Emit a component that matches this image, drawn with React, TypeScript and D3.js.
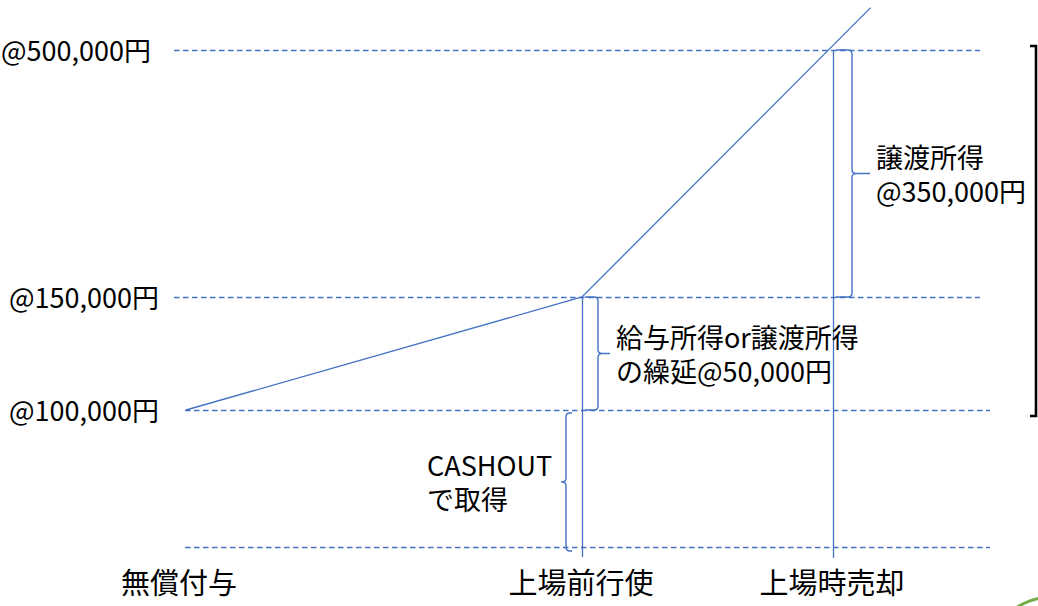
import React from 'react';
import { scaleLinear, line } from 'd3';

// phases along the horizontal axis
const phases = ['無償付与', '上場前行使', '上場時売却'];
// price levels (yen) with their labels
const levels = [0, 100000, 150000, 500000];
const levelLabels = ['', '@100,000円', '@150,000円', '@500,000円'];
// share price path: grant -> exercise -> sale (line continues past the sale level)
const pricePath = [
  { phase: 0, value: 100000 },
  { phase: 1, value: 150000 },
  { phase: 2.15, value: 560000 },
];
// brace annotations
const braces = [
  { phase: 2, from: 150000, to: 500000, side: 'right', lines: ['譲渡所得', '@350,000円'] },
  { phase: 1, from: 100000, to: 150000, side: 'right', lines: ['給与所得or譲渡所得', 'の繰延@50,000円'] },
  { phase: 1, from: 0, to: 100000, side: 'left', lines: ['CASHOUT', 'で取得'] },
];

const BLUE = '#4472C4';
const FONT = '"Noto Sans CJK JP", "Noto Sans", sans-serif';

function bracePath(edge: number, body: number, y0: number, y1: number, tipX: number) {
  const dir = body > edge ? 1 : -1;
  const r = 4;
  const m = (y0 + y1) / 2;
  return `M${edge},${y0} L${body - dir * r},${y0} Q${body},${y0} ${body},${y0 + r}` +
    ` L${body},${m - r} Q${body},${m} ${body + dir * r},${m} L${tipX},${m}` +
    ` M${body + dir * r},${m} Q${body},${m} ${body},${m + r}` +
    ` L${body},${y1 - r} Q${body},${y1} ${body - dir * r},${y1} L${edge},${y1}`;
}

export default function App() {
  const width = 1038;
  const height = 606;

  const x = scaleLinear().domain([0, 1, 2]).range([186, 582, 833]);
  const y = scaleLinear().domain(levels).range([547, 410, 297, 50]);

  const pathGen = line<{ phase: number; value: number }>()
    .x(d => x(d.phase))
    .y(d => y(d.value));

  return (
    <div style={{ position: 'absolute', left: 0, top: 0 }}>
      <svg width={width} height={height} style={{ display: 'block', fontFamily: FONT }}>
        <rect width={width} height={height} fill="#fff" />

        {/* dashed level lines */}
        {levels.map(v => (
          <line key={v}
            x1={v > 100000 ? 174 : 185} x2={v > 100000 ? 980 : 990}
            y1={y(v) + 0.5} y2={y(v) + 0.5}
            stroke={BLUE} strokeWidth={1.3} strokeDasharray="5.5,3.5" />
        ))}

        {/* level labels */}
        {levels.map((v, i) => levelLabels[i] && (
          <text key={'l' + v} x={v === 500000 ? 151 : 159} y={y(v) + 11}
            textAnchor="end" fontSize={27} fill="#000">{levelLabels[i]}</text>
        ))}

        {/* vertical phase lines */}
        <line x1={x(1) + 0.5} x2={x(1) + 0.5} y1={y(150000)} y2={557} stroke={BLUE} strokeWidth={1.3} />
        <line x1={x(2) + 0.5} x2={x(2) + 0.5} y1={y(500000)} y2={558} stroke={BLUE} strokeWidth={1.3} />

        {/* price path */}
        <path d={pathGen(pricePath) || ''} fill="none" stroke={BLUE} strokeWidth={1.3} />

        {/* braces and annotations */}
        {braces.map((b, i) => {
          const px = x(b.phase);
          const right = b.side === 'right';
          const edge = right ? px + 3 : px - 10;
          const body = right ? edge + (i === 0 ? 16 : 13) : edge - 6;
          const tipX = right ? body + (i === 0 ? 18 : 12) : body - 5;
          const y0 = y(b.to) + (right ? 0 : 3);
          const y1 = y(b.from) + (right ? 0 : 4);
          const m = (y0 + y1) / 2;
          const tx = right ? tipX + 6 : 427;
          const lh = 34;
          const ty = m + 2 - lh / 2 + 9;
          return (
            <g key={i}>
              <path d={bracePath(edge, body, y0, y1, tipX)} fill="none" stroke={BLUE} strokeWidth={1.4} />
              <text x={tx} y={ty} fontSize={27} fill="#000">
                {b.lines.map((t, j) => (
                  <tspan key={j} x={tx} dy={j === 0 ? 0 : lh}>{t}</tspan>
                ))}
              </text>
            </g>
          );
        })}

        {/* phase labels */}
        {phases.map((p, i) => (
          <text key={p} x={x(i) - (i === 0 ? 7 : 1)} y={594} textAnchor="middle" fontSize={29} fill="#000">{p}</text>
        ))}

        {/* black bracket on the right */}
        <path d={`M1030,${y(500000) - 4} H1036 V${y(100000) + 6} H1030`}
          fill="none" stroke="#000" strokeWidth={2.6} />

        {/* green decoration */}
        <path d="M1014,609 Q1026,601 1040,598" fill="none" stroke="#70AD47" strokeWidth={3} />
      </svg>
    </div>
  );
}
